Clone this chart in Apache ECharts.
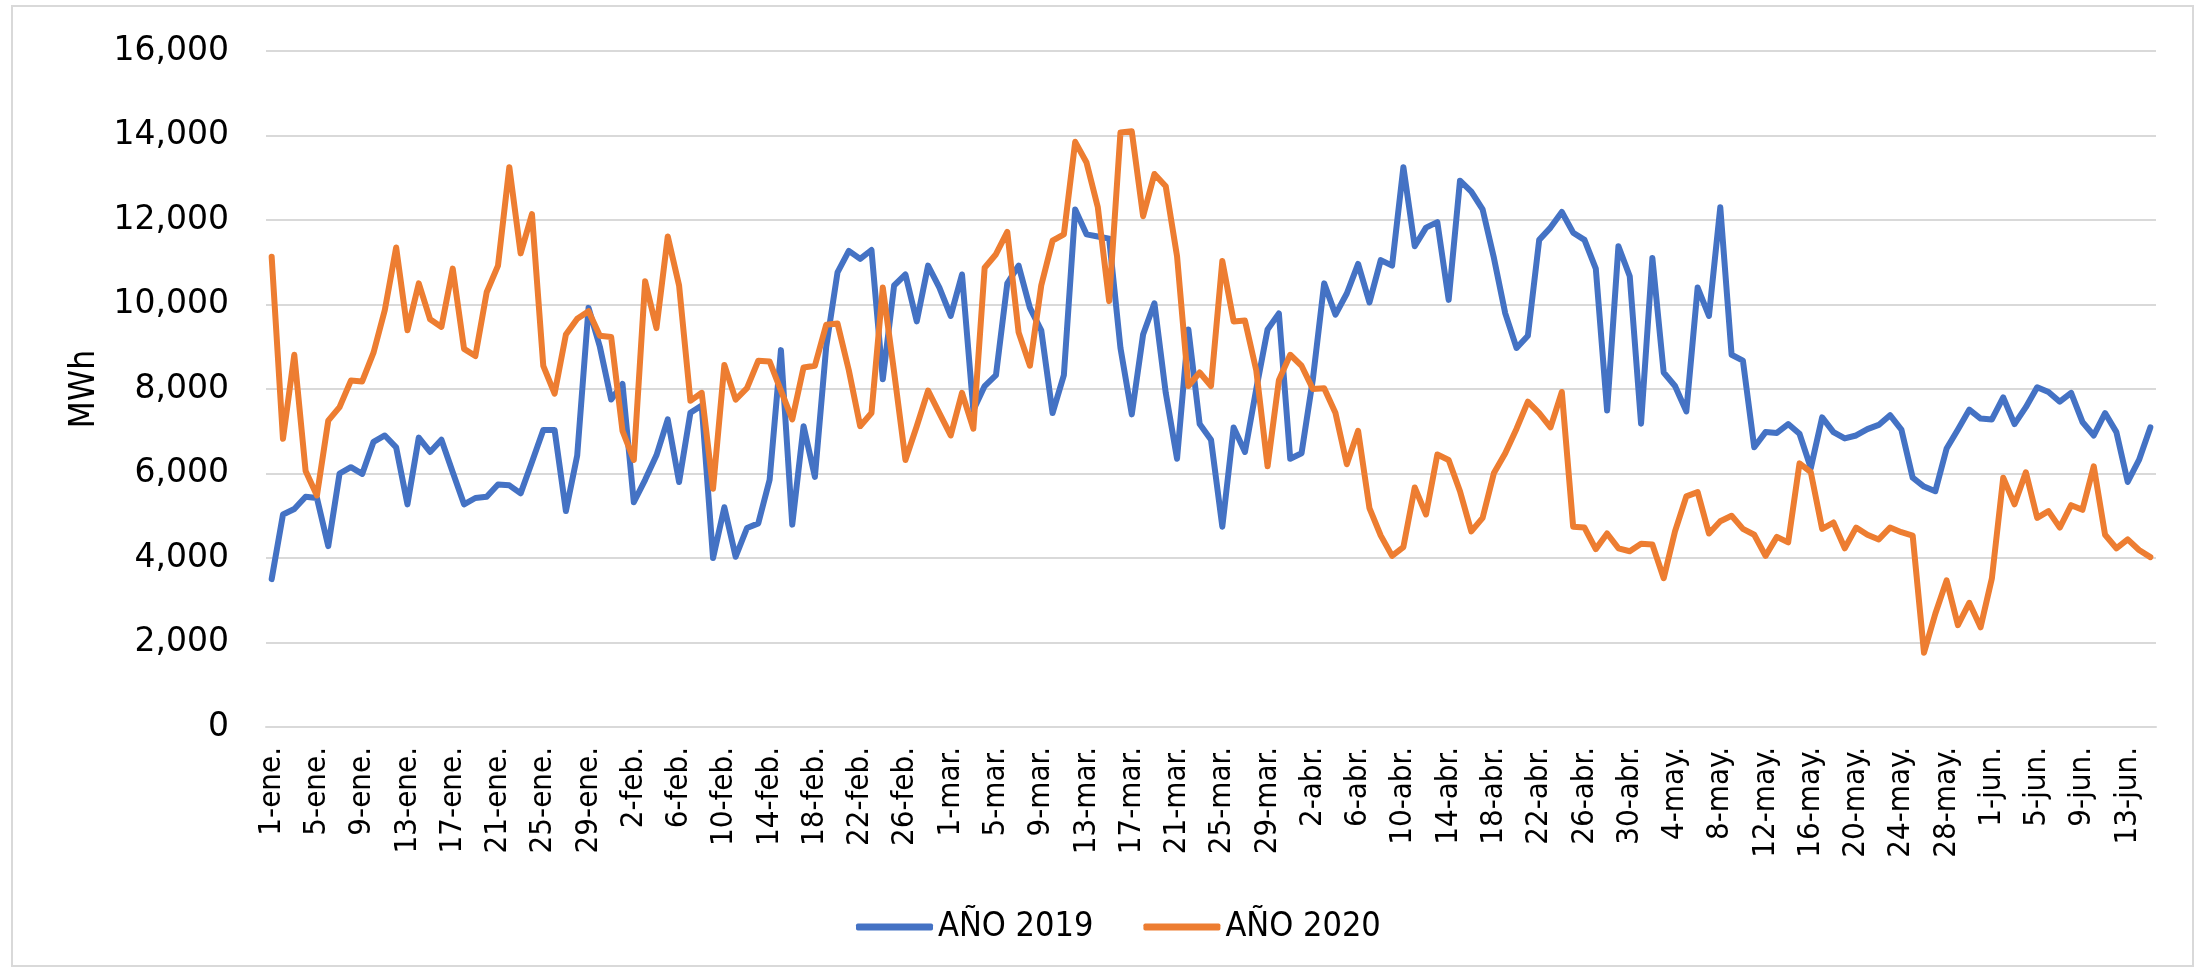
<!DOCTYPE html>
<html lang="es">
<head>
    <meta charset="UTF-8">
    <title>MWh 2019 vs 2020</title>
    <script src="https://cdn.jsdelivr.net/npm/echarts@6/dist/echarts.min.js"></script>
    <style>
        html, body { margin: 0; padding: 0; background: #fff; }
        #chart { width: 2206px; height: 972px; }
    </style>
</head>
<body>
<div id="chart"></div>
<script>
    // meses y dias (1-ene .. 15-jun, 2020 bisiesto)
    var monthNames = ['ene.', 'feb.', 'mar.', 'abr.', 'may.', 'jun.'];
    var monthDays = [31, 29, 31, 30, 31, 15];

    var yTicks = [0, 2000, 4000, 6000, 8000, 10000, 12000, 14000, 16000];

    var serie2019 = [
        3500, 5030, 5160, 5450, 5420, 4280, 6000, 6150, 5990, 6750,
        6900, 6620, 5270, 6850, 6510, 6800, 6030, 5270, 5420, 5450,
        5740, 5720, 5530, 6270, 7030, 7030, 5110, 6430, 9920, 9000,
        7750, 8120, 5320, 5850, 6430, 7280, 5800, 7440, 7610, 4000,
        5200, 4030, 4710, 4820, 5850, 8920, 4790, 7120, 5920, 9000,
        10760, 11270, 11080, 11290, 8230, 10450, 10710, 9600, 10920, 10400,
        9730, 10710, 7500, 8070, 8330, 10500, 10920, 9920, 9390, 7430,
        8330, 12250, 11660, 11610, 11560, 8970, 7400, 9290, 10030, 7910,
        6350, 9410, 7170, 6800, 4740, 7090, 6510, 8000, 9410, 9790,
        6350, 6480, 8230, 10500, 9760, 10260, 10960, 10050, 11050, 10920,
        13250, 11380, 11820, 11950, 10110, 12930, 12670, 12250, 11100, 9790,
        8970, 9260, 11530, 11820, 12190, 11700, 11530, 10850, 7490, 11380,
        10670, 7180, 11100, 8390, 8070, 7470, 10400, 9730, 12300, 8810,
        8670, 6620, 6980, 6960, 7170, 6940, 6130, 7330, 6980, 6830,
        6900, 7050, 7150, 7380, 7040, 5900, 5690, 5580, 6590, 7040,
        7510, 7300, 7280, 7800, 7170, 7570, 8040, 7930, 7700, 7910,
        7220, 6900, 7430, 6980, 5800, 6320, 7090
    ];

    var serie2020 = [
        11130, 6820, 8810, 6060, 5480, 7250, 7570, 8200, 8180, 8860,
        9870, 11350, 9390, 10500, 9650, 9470, 10850, 8950, 8780, 10290,
        10920, 13250, 11210, 12140, 8550, 7890, 9290, 9660, 9840, 9260,
        9230, 7010, 6320, 10550, 9440, 11610, 10450, 7720, 7910, 5640,
        8570, 7750, 8020, 8670, 8650, 7960, 7280, 8510, 8550, 9520,
        9550, 8440, 7120, 7430, 10400, 8400, 6320, 7120, 7960, 7430,
        6900, 7910, 7060, 10870, 11190, 11720, 9340, 8550, 10450, 11510,
        11660, 13850, 13360, 12300, 10080, 14070, 14100, 12090, 13090, 12800,
        11140, 8070, 8390, 8070, 11030, 9600, 9620, 8440, 6170, 8210,
        8810, 8550, 8000, 8020, 7430, 6220, 7010, 5180, 4530, 4050,
        4260, 5670, 5030, 6450, 6320, 5580, 4630, 4950, 6010, 6480,
        7060, 7700, 7430, 7090, 7930, 4740, 4720, 4210, 4580, 4230,
        4160, 4340, 4320, 3520, 4630, 5460, 5560, 4580, 4870, 5000,
        4690, 4550, 4050, 4500, 4370, 6240, 6030, 4690, 4840, 4230,
        4720, 4550, 4440, 4720, 4610, 4530, 1760, 2680, 3470, 2410,
        2940, 2360, 3520, 5900, 5270, 6030, 4950, 5110, 4720, 5250,
        5140, 6170, 4550, 4230, 4440, 4190, 4020
    ];

    // etiquetas de fecha tipo "1-ene."
    var categories = [];
    for (var m = 0; m < monthNames.length; m++) {
        for (var d = 1; d <= monthDays[m]; d++) {
            categories.push(d + '-' + monthNames[m]);
        }
    }

    var chart = echarts.init(document.getElementById('chart'));

    var option = {
        backgroundColor: '#fff',
        animation: false,
        grid: {
            left: 266,
            right: 50,
            top: 51,
            bottom: 245
        },
        legend: {
            left: 851,
            top: 905,
            itemWidth: 77,
            itemHeight: 7,
            itemGap: 50,
            icon: 'roundRect',
            textStyle: {
                fontFamily: 'DejaVu Sans Condensed',
                fontSize: 34,
                color: '#000'
            },
            data: ['AÑO 2019', 'AÑO 2020']
        },
        xAxis: {
            type: 'category',
            boundaryGap: true,
            data: categories,
            axisLine: { lineStyle: { color: '#d9d9d9', width: 2 } },
            axisTick: { show: false },
            axisLabel: {
                interval: 3,
                rotate: 90,
                margin: 20,
                fontFamily: 'DejaVu Sans Condensed',
                fontSize: 31,
                color: '#000'
            }
        },
        yAxis: {
            type: 'value',
            min: yTicks[0],
            max: yTicks[yTicks.length - 1],
            interval: yTicks[1] - yTicks[0],
            name: 'MWh',
            nameLocation: 'middle',
            nameRotate: 90,
            nameGap: 154,
            nameTextStyle: {
                fontFamily: 'DejaVu Sans Condensed',
                fontSize: 35,
                color: '#000'
            },
            axisLine: { show: false },
            axisTick: { show: false },
            axisLabel: {
                margin: 37,
                fontFamily: 'DejaVu Sans',
                fontSize: 33,
                color: '#000',
                formatter: function (v) {
                    return v.toLocaleString('en-US');
                }
            },
            splitLine: { lineStyle: { color: '#d9d9d9', width: 2 } }
        },
        graphic: [{
            type: 'rect',
            shape: { x: 12, y: 6, width: 2181, height: 960 },
            style: { fill: 'none', stroke: '#d9d9d9', lineWidth: 2 },
            silent: true
        }],
        series: [
            {
                name: 'AÑO 2019',
                type: 'line',
                data: serie2019,
                symbol: 'none',
                itemStyle: { color: '#4472c4' },
                lineStyle: { color: '#4472c4', width: 6, join: 'round', cap: 'round' }
            },
            {
                name: 'AÑO 2020',
                type: 'line',
                data: serie2020,
                symbol: 'none',
                itemStyle: { color: '#ed7d31' },
                lineStyle: { color: '#ed7d31', width: 6, join: 'round', cap: 'round' }
            }
        ]
    };

    chart.setOption(option);
</script>
</body>
</html>
